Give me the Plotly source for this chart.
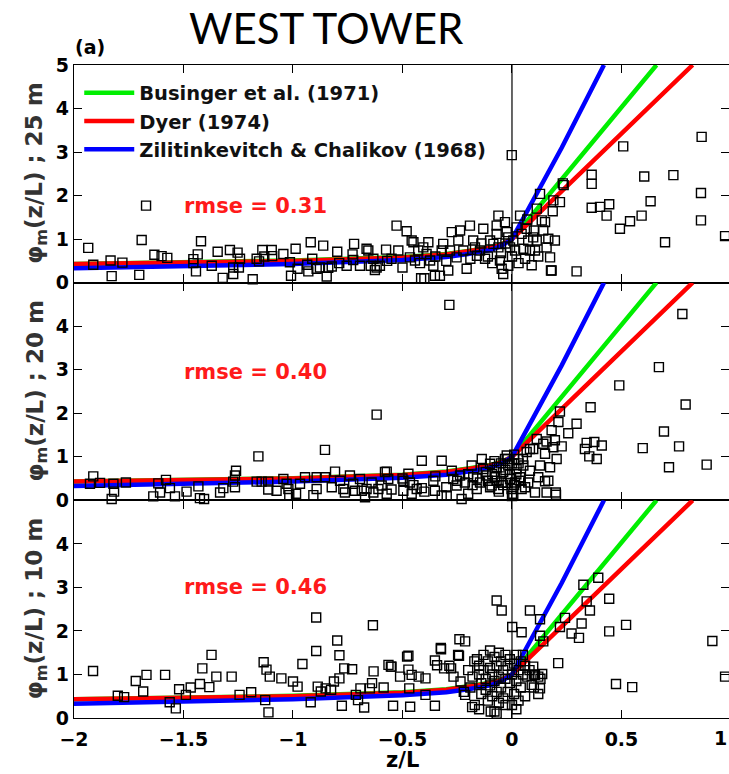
import plotly.graph_objects as go

# ---- flux-profile curves phi_m(z/L) ----
zl_businger = [-2.0, -1.5, -1.0, -0.5, -0.3, -0.2, -0.1, -0.05, 0.0, 0.66]
phi_businger = [0.43, 0.46, 0.51, 0.59, 0.66, 0.73, 0.81, 0.88, 1.0, 5.0]

zl_dyer = [-2.0, -1.5, -1.0, -0.5, -0.3, -0.2, -0.1, -0.05, 0.0, 0.825]
phi_dyer = [0.43, 0.46, 0.50, 0.58, 0.65, 0.72, 0.80, 0.87, 1.0, 5.0]

zl_zc = [-2.0, -1.5, -1.0, -0.5, -0.3, -0.2, -0.1, -0.05, 0.0, 0.227, 0.42]
phi_zc = [0.33, 0.38, 0.43, 0.52, 0.59, 0.66, 0.75, 0.84, 1.0, 3.1, 5.0]

# ---- observations (z/L, phi_m) ----
obs_25m = [
    (-1.935, 0.80), (-1.912, 0.41), (-1.833, 0.51), (-1.828, 0.15), (-1.779, 0.46),
    (-1.702, 0.18), (-1.691, 0.98), (-1.671, 1.77), (-1.633, 0.64), (-1.600, 0.61),
    (-1.574, 0.57), (-1.455, 0.54), (-1.455, 0.45), (-1.443, 0.26), (-1.435, 0.65),
    (-1.420, 0.95), (-1.371, 0.39), (-1.344, 0.71), (-1.321, 0.11), (-1.288, 0.75),
    (-1.273, 0.20), (-1.253, 0.69), (-1.242, 0.55), (-1.273, 0.35), (-1.247, 0.35),
    (-1.184, 0.08), (-1.166, 0.55), (-1.155, 0.49), (-1.140, 0.75), (-1.131, 0.60),
    (-1.097, 0.75), (-1.095, 0.61), (-1.044, 0.66), (-1.014, 0.47), (-1.009, 0.16),
    (-0.988, 0.78), (-0.979, 0.32), (-0.935, 0.41), (-0.930, 0.26), (-0.919, 0.93),
    (-0.912, 0.55), (-0.892, 0.32), (-0.877, 0.35), (-0.862, 0.85), (-0.846, 0.14),
    (-0.839, 0.34), (-0.823, 0.37), (-0.798, 0.71), (-0.789, 0.45), (-0.755, 0.39),
    (-0.728, 0.65), (-0.721, 0.89), (-0.725, 0.52), (-0.694, 0.39), (-0.664, 0.78),
    (-0.656, 0.74), (-0.645, 0.39), (-0.633, 0.55), (-0.626, 0.29), (-0.618, 0.35),
    (-0.603, 0.39), (-0.575, 0.76), (-0.519, 0.74), (-0.527, 1.31), (-0.481, 1.18),
    (-0.458, 0.97), (-0.450, 0.93), (-0.466, 0.58), (-0.443, 0.51), (-0.428, 0.74),
    (-0.405, 0.81), (-0.382, 0.93), (-0.390, 0.66), (-0.374, 0.51), (-0.359, 0.39),
    (-0.415, 0.10), (-0.400, 0.10), (-0.352, 0.16), (-0.329, 0.16), (-0.321, 0.74),
    (-0.314, 0.89), (-0.291, 0.28), (-0.275, 1.16), (-0.283, 0.74), (-0.253, 0.58),
    (-0.237, 1.20), (-0.245, 0.97), (-0.222, 0.74), (-0.207, 0.32), (-0.192, 1.31),
    (-0.177, 0.97), (-0.169, 0.81), (-0.146, 0.74), (-0.131, 1.24), (-0.123, 0.55),
    (-0.100, 0.97), (-0.085, 0.89), (-0.070, 1.12), (-0.062, 1.54), (-0.070, 1.31),
    (-0.062, 0.81), (-0.055, 0.51), (-0.047, 0.32), (-0.040, 0.20), (-0.032, 1.39),
    (-0.024, 1.16), (-0.017, 1.04), (-0.009, 0.81), (-0.017, 0.39), (0.006, 0.97),
    (0.014, 0.74), (-0.001, 2.93), (0.021, 1.27), (0.037, 1.54), (0.044, 1.12),
    (0.052, 0.78), (0.067, 1.24), (0.074, 0.97), (0.082, 0.74), (0.097, 1.04),
    (0.105, 0.74), (0.113, 0.97), (0.128, 2.04), (0.136, 1.43), (0.143, 1.20),
    (0.151, 1.39), (0.158, 0.81), (0.166, 1.01), (0.174, 0.58), (0.181, 0.28),
    (0.189, 1.89), (0.186, 1.64), (0.196, 0.97), (0.113, 1.70), (0.219, 1.85),
    (0.232, 2.28), (0.236, 2.24), (0.364, 2.48), (0.364, 2.27), (0.508, 3.13),
    (0.604, 2.44), (0.737, 2.47), (0.866, 3.35), (0.863, 2.06), (0.863, 1.43),
    (0.973, 1.07), (0.699, 0.93), (0.633, 1.87), (0.592, 1.54), (0.539, 1.41),
    (0.493, 1.24), (0.444, 1.80), (0.432, 1.54), (0.402, 1.74), (0.364, 1.72),
    (0.295, 0.26), (0.178, 0.28), (-0.190, 0.55), (-0.160, 0.62), (-0.140, 0.90),
    (-0.110, 0.60), (-0.090, 0.45), (-0.050, 0.68), (-0.030, 0.90), (0.000, 0.60),
    (0.030, 0.45), (0.060, 0.55), (0.090, 0.40), (0.120, 0.60), (0.100, 1.20),
    (0.070, 1.45), (-0.350, 0.60), (-0.300, 0.50), (-0.420, 0.45), (-0.500, 0.35),
    (-0.550, 0.55), (-0.570, 0.50),
]

obs_20m = [
    (-1.927, 0.38), (-1.912, 0.55), (-1.881, 0.40), (-1.828, 0.03), (-1.820, 0.38),
    (-1.817, 0.20), (-1.763, 0.41), (-1.638, 0.09), (-1.615, 0.39), (-1.607, 0.18),
    (-1.580, 0.47), (-1.562, 0.28), (-1.539, 0.09), (-1.486, 0.20), (-1.432, 0.32),
    (-1.425, 0.05), (-1.406, 0.03), (-1.333, 0.18), (-1.318, 0.28), (-1.273, 0.43),
    (-1.265, 0.57), (-1.260, 0.68), (-1.265, 0.30), (-1.158, 1.01), (-1.166, 0.43),
    (-1.143, 0.43), (-1.113, 0.43), (-1.113, 0.25), (-1.075, 0.22), (-1.044, 0.49),
    (-1.029, 0.38), (-1.021, 0.26), (-1.017, 0.12), (-0.986, 0.15), (-0.968, 0.38),
    (-0.945, 0.53), (-0.907, 0.12), (-0.892, 0.26), (-0.892, 0.53), (-0.854, 1.16),
    (-0.854, 0.53), (-0.823, 0.30), (-0.808, 0.66), (-0.785, 0.45), (-0.770, 0.26),
    (-0.763, 0.18), (-0.740, 0.57), (-0.725, 0.38), (-0.717, 0.22), (-0.694, 0.49),
    (-0.686, 0.22), (-0.671, 0.07), (-0.664, 0.26), (-0.641, 0.41), (-0.618, 1.97),
    (-0.633, 0.18), (-0.610, 0.26), (-0.595, 0.34), (-0.580, 0.65), (-0.572, 0.15),
    (-0.565, 0.49), (-0.572, 0.66), (-0.496, 0.45), (-0.473, 0.61), (-0.466, 0.41),
    (-0.496, 0.22), (-0.458, 0.15), (-0.435, 0.26), (-0.412, 0.28), (-0.412, 0.91),
    (-0.359, 0.45), (-0.352, 0.22), (-0.321, 0.11), (-0.298, 0.11), (-0.321, 0.91),
    (-0.275, 0.68), (-0.268, 0.49), (-0.253, 0.34), (-0.237, 0.57), (-0.230, 0.03),
    (-0.215, 0.41), (-0.200, 0.15), (-0.184, 0.80), (-0.177, 0.53), (-0.161, 0.26),
    (-0.146, 0.41), (-0.138, 0.95), (-0.131, 0.72), (-0.116, 0.57), (-0.100, 0.84),
    (-0.093, 0.34), (-0.078, 0.53), (-0.070, 0.76), (-0.062, 0.26), (-0.047, 0.41),
    (-0.040, 0.65), (-0.032, 0.95), (-0.024, 1.03), (-0.017, 0.80), (-0.009, 0.49),
    (-0.002, 0.26), (0.006, 0.15), (0.014, 0.41), (0.021, 0.72), (0.029, 0.95),
    (0.037, 0.53), (0.044, 0.26), (0.052, 0.80), (0.067, 1.11), (0.074, 0.41),
    (0.082, 0.68), (0.097, 1.18), (0.105, 0.18), (0.113, -0.08), (0.120, 0.53),
    (0.128, 0.80), (0.143, 1.30), (0.151, 1.07), (0.158, 0.18), (0.166, 0.45),
    (0.174, 0.76), (0.181, 1.61), (0.189, 1.22), (0.200, 0.18), (0.204, 0.95),
    (0.196, 1.38), (-0.286, 4.49), (0.778, 4.28), (0.671, 3.06), (0.490, 2.64),
    (0.359, 2.14), (0.793, 2.20), (0.219, 2.04), (0.212, 1.80), (0.295, 1.76),
    (0.257, 1.54), (0.694, 1.58), (0.597, 1.20), (0.763, 1.24), (0.717, 0.76),
    (0.889, 0.82), (0.410, 1.26), (0.376, 1.34), (0.341, 1.32), (0.333, 1.18),
    (0.353, 1.01), (0.387, 0.95), (0.227, 1.24), (0.158, 1.35), (0.113, 1.41),
    (0.201, 0.13), (0.151, 0.44), (0.082, 1.18), (-0.120, 0.65), (-0.110, 0.45),
    (-0.100, 0.30), (-0.090, 0.60), (-0.080, 0.90), (-0.070, 0.45), (-0.060, 0.20),
    (-0.050, 0.85), (-0.050, 0.55), (-0.040, 0.35), (-0.030, 0.70), (-0.020, 0.95),
    (-0.020, 0.40), (-0.010, 0.60), (0.000, 0.85), (0.000, 0.10), (0.010, 1.05),
    (0.010, 0.35), (0.020, 0.60), (0.030, 0.85), (0.040, 0.45), (0.050, 0.95),
    (0.060, 0.30), (-0.160, 0.50), (-0.180, 0.35), (-0.200, 0.60), (-0.250, 0.45),
    (-0.300, 0.30), (-0.350, 0.55), (-0.400, 0.20), (-0.450, 0.35), (-0.500, 0.50),
    (-0.550, 0.25),
]

obs_10m = [
    (-1.913, 1.08), (-1.771, 0.48), (-1.800, 0.51), (-1.718, 0.85), (-1.669, 0.99),
    (-1.684, 0.61), (-1.584, 0.99), (-1.563, 0.36), (-1.535, 0.22), (-1.520, 0.66),
    (-1.489, 0.53), (-1.467, 0.70), (-1.414, 1.14), (-1.425, 0.78), (-1.382, 0.71),
    (-1.372, 1.45), (-1.350, 0.95), (-1.280, 0.95), (-1.244, 0.53), (-1.191, 0.59),
    (-1.134, 1.28), (-1.121, 1.11), (-1.106, 0.95), (-1.112, 0.13), (-1.127, 0.41),
    (-1.053, 0.91), (-1.000, 0.84), (-0.979, 0.72), (-0.957, 1.24), (-0.919, 0.36),
    (-0.894, 2.31), (-0.894, 1.54), (-0.887, 0.72), (-0.873, 0.61), (-0.851, 0.68),
    (-0.826, 0.65), (-0.813, 0.84), (-0.798, 1.78), (-0.788, 1.44), (-0.788, 0.91),
    (-0.766, 1.14), (-0.777, 0.28), (-0.730, 1.12), (-0.713, 0.53), (-0.703, 0.41),
    (-0.692, 0.68), (-0.675, 0.24), (-0.649, 0.68), (-0.639, 0.80), (-0.635, 2.13),
    (-0.632, 1.07), (-0.586, 0.70), (-0.564, 1.22), (-0.550, 1.18), (-0.543, 0.28),
    (-0.511, 0.95), (-0.479, 1.41), (-0.473, 1.11), (-0.469, 0.68), (-0.465, 0.26),
    (-0.458, 0.99), (-0.426, 0.95), (-0.395, 0.91), (-0.395, 0.53), (-0.352, 0.28),
    (-0.342, 1.21), (-0.325, 1.61), (-0.310, 1.14), (-0.278, 1.14), (-0.267, 0.95),
    (-0.240, 1.81), (-0.246, 1.45), (-0.214, 1.76), (-0.235, 0.84), (-0.214, 0.53),
    (-0.172, 1.30), (-0.182, 0.25), (-0.097, 0.15), (-0.070, 2.70), (-0.047, 2.47),
    (0.082, 2.47), (0.128, 2.27), (0.001, 2.09), (0.044, 1.97), (0.128, 1.89),
    (0.143, 1.76), (0.219, 2.09), (0.242, 2.30), (0.272, 1.94), (0.306, 1.84),
    (0.318, 2.17), (0.341, 2.68), (0.326, 3.06), (0.394, 3.22), (0.356, 2.47),
    (0.444, 2.74), (0.444, 1.99), (0.521, 2.14), (0.211, 1.26), (0.475, 0.78),
    (0.549, 0.71), (0.915, 1.77), (0.973, 0.95), (0.097, 1.18), (0.105, 0.99),
    (0.138, 1.01), (0.090, 0.76), (0.128, 0.68), (-0.324, 1.58), (-0.242, 1.43),
    (-0.352, 1.32), (-0.286, 1.20), (-0.553, 1.18), (-0.473, 1.43),
    (-0.160, 1.35), (-0.150, 1.20), (-0.150, 1.00), (-0.140, 0.80), (-0.140, 0.55),
    (-0.130, 1.45), (-0.130, 1.10), (-0.120, 0.90), (-0.120, 0.65), (-0.110, 1.30),
    (-0.110, 0.40), (-0.100, 1.55), (-0.100, 1.15), (-0.100, 0.75), (-0.090, 1.00),
    (-0.090, 0.50), (-0.080, 1.40), (-0.080, 0.85), (-0.080, 0.15), (-0.070, 1.20),
    (-0.070, 0.60), (-0.070, 0.10), (-0.060, 1.50), (-0.060, 0.95), (-0.060, 0.35),
    (-0.050, 1.30), (-0.050, 0.70), (-0.040, 1.10), (-0.040, 0.45), (-0.030, 1.45),
    (-0.030, 0.90), (-0.030, 0.30), (-0.020, 1.20), (-0.020, 0.60), (-0.010, 1.35),
    (-0.010, 0.80), (0.000, 1.00), (0.000, 0.30), (0.010, 1.25), (0.010, 0.55),
    (0.020, 1.45), (0.020, 0.85), (0.030, 1.10), (0.030, 0.40), (0.040, 1.30),
    (0.040, 0.70), (0.050, 1.00), (0.050, 1.45), (0.060, 1.20), (0.070, 0.95),
    (0.080, 1.10), (0.100, 1.00), (0.120, 0.95), (0.130, 0.90), (0.100, 0.70),
    (0.120, 0.55), (-0.180, 0.95), (-0.190, 0.70), (-0.200, 1.10), (-0.220, 0.60),
    (-0.170, 0.30), (-0.150, 0.20), (0.020, 0.20), (0.060, 0.50),
]

heights = ["25 m", "20 m", "10 m"]
rmse_labels = ["rmse = 0.31", "rmse = 0.40", "rmse = 0.46"]
rmse_y = [1.75, 2.95, 3.02]
observations = [obs_25m, obs_20m, obs_10m]

x_ticks = [-2, -1.5, -1, -0.5, 0, 0.5, 1]
x_ticktext = ["\u22122", "\u22121.5", "\u22121", "\u22120.5", "0", "0.5", "1"]

GREEN, RED, BLUE = "#00ee00", "#ff0000", "#0000ff"
TICK_FONT = dict(family="DejaVu Sans", size=19, color="black", weight="bold")

curves = [
    ("Businger et al. (1971)", zl_businger, phi_businger, GREEN),
    ("Dyer (1974)", zl_dyer, phi_dyer, RED),
    ("Zilitinkevitch & Chalikov (1968)", zl_zc, phi_zc, BLUE),
]

fig = go.Figure()
for i, obs in enumerate(observations):
    xa = "x" if i == 0 else f"x{i + 1}"
    ya = "y" if i == 0 else f"y{i + 1}"
    for name, zx, zy, col in curves:
        fig.add_trace(go.Scatter(
            x=zx, y=zy, mode="lines", name=name, legendgroup=name,
            showlegend=(i == 0), line=dict(color=col, width=4.5),
            xaxis=xa, yaxis=ya, hoverinfo="skip",
        ))
    ox = [p[0] for p in obs]
    oy = [p[1] for p in obs]
    fig.add_trace(go.Scatter(
        x=ox, y=oy, mode="markers", showlegend=False, cliponaxis=False,
        marker=dict(symbol="square-open", size=9, color="black",
                    line=dict(color="black", width=1.4)),
        xaxis=xa, yaxis=ya,
    ))

domains = [[2 / 3, 1.0], [1 / 3, 2 / 3], [0.0, 1 / 3]]
layout = dict(
    width=729, height=774,
    margin=dict(l=74, r=0, t=65, b=56),
    paper_bgcolor="white", plot_bgcolor="white",
    showlegend=True,
    legend=dict(
        x=0.008, y=0.987, xanchor="left", yanchor="top",
        bgcolor="rgba(0,0,0,0)", traceorder="grouped", tracegroupgap=0,
        itemwidth=50,
        font=dict(family="DejaVu Sans", size=19.5, color="#111", weight="bold"),
    ),
)
shapes = []
annotations = []
for i in range(3):
    sfx = "" if i == 0 else str(i + 1)
    layout["xaxis" + sfx] = dict(
        range=[-2, 0.991], tickvals=x_ticks, ticktext=x_ticktext,
        ticks="inside", ticklen=8, tickwidth=1.2, tickcolor="black",
        showline=True, linecolor="black", linewidth=1.4, mirror="ticks",
        showgrid=False, zeroline=False, showticklabels=(i == 2),
        tickfont=TICK_FONT, ticklabelstandoff=4,
        anchor="y" + sfx, matches=None if i == 0 else "x",
    )
    layout["yaxis" + sfx] = dict(
        range=[0, 5], domain=domains[i],
        tickvals=[0, 1, 2, 3, 4, 5] if i == 0 else [0, 1, 2, 3, 4],
        ticks="inside", ticklen=8, tickwidth=1.2, tickcolor="black",
        showline=True, linecolor="black", linewidth=1.4, mirror="ticks",
        showgrid=False, zeroline=False, tickfont=TICK_FONT,
        anchor="x" + sfx,
    )
    # vertical reference line at z/L = 0
    shapes.append(dict(type="line", xref="x" + sfx, yref=f"y{sfx} domain",
                       x0=0, x1=0, y0=0, y1=1,
                       line=dict(color="black", width=1.2)))
    annotations.append(dict(
        xref="x" + sfx, yref="y" + sfx, x=-1.17, y=rmse_y[i],
        text=rmse_labels[i], showarrow=False,
        font=dict(family="DejaVu Sans", size=21, color="#ff1a1a", weight="bold"),
    ))
    annotations.append(dict(
        xref="paper", yref="paper", x=-0.058, y=sum(domains[i]) / 2,
        text=f"\u03c6<sub>m</sub>(z/L) ; {heights[i]}", textangle=-90,
        showarrow=False, xanchor="center", yanchor="middle",
        font=dict(family="DejaVu Sans", size=23, color="#333", weight="bold"),
    ))

annotations += [
    dict(xref="paper", yref="paper", x=0.385, y=1.0567, text="WEST TOWER",
         showarrow=False, xanchor="center", yanchor="middle",
         font=dict(family="Lato", size=42, color="black")),
    dict(xref="paper", yref="paper", x=0.024, y=1.0276, text="(a)",
         showarrow=False, xanchor="center", yanchor="middle",
         font=dict(family="DejaVu Sans", size=19, color="black", weight="bold")),
    dict(xref="paper", yref="paper", x=(-0.5 + 2) / 2.991, y=-0.064, text="z/L",
         showarrow=False, xanchor="center", yanchor="middle",
         font=dict(family="DejaVu Sans", size=21, color="black", weight="bold")),
    dict(xref="paper", yref="paper", x=1.0, y=-0.0306, text="1",
         showarrow=False, xanchor="right", yanchor="middle",
         font=TICK_FONT),
]
layout["shapes"] = shapes
layout["annotations"] = annotations
fig.update_layout(**layout)
fig.write_html("out.html")
